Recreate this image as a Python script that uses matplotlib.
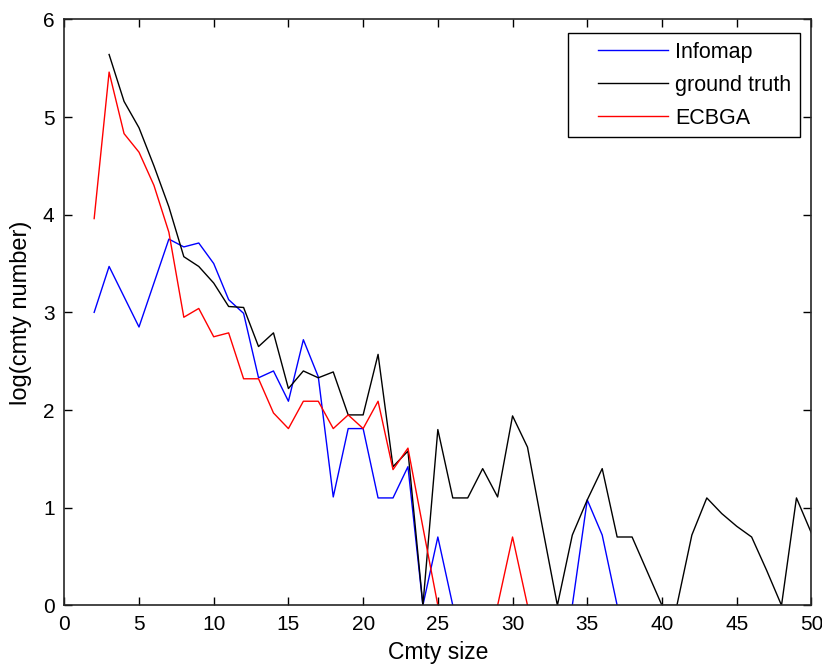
import numpy as np
import matplotlib.pyplot as plt
from matplotlib.legend_handler import HandlerLine2D

plt.rcParams['font.family'] = ['Liberation Sans', 'DejaVu Sans']

nan = np.nan

# community sizes
size = np.arange(2, 51)

# log of community counts per size (nan where no community of that size)
infomap = [3.00, 3.47, 3.16, 2.85, 3.30, 3.75, 3.67, 3.71, 3.50, 3.13,
           2.99, 2.33, 2.40, 2.09, 2.72, 2.34, 1.11, 1.81, 1.81, 1.10,
           1.10, 1.42, 0.00, 0.70, 0.00, nan, nan, nan, nan, nan,
           nan, nan, 0.00, 1.08, 0.72, 0.00, nan, nan, nan, nan,
           nan, nan, nan, nan, nan, nan, nan, nan, nan]

ground_truth = [nan, 5.64, 5.16, 4.89, 4.50, 4.08, 3.57, 3.47, 3.30, 3.06,
                3.05, 2.65, 2.79, 2.22, 2.40, 2.33, 2.39, 1.95, 1.95, 2.57,
                1.42, 1.58, 0.00, 1.80, 1.10, 1.10, 1.40, 1.11, 1.94, 1.62,
                0.80, 0.00, 0.72, 1.08, 1.40, 0.70, 0.70, 0.35, 0.00, 0.00,
                0.72, 1.10, 0.94, 0.81, 0.70, 0.36, 0.00, 1.10, 0.74]

ecbga = [3.96, 5.46, 4.83, 4.64, 4.30, 3.82, 2.95, 3.04, 2.75, 2.79,
         2.32, 2.32, 1.97, 1.81, 2.09, 2.09, 1.81, 1.95, 1.81, 2.09,
         1.39, 1.61, 0.80, 0.00, nan, nan, nan, 0.00, 0.70, 0.00,
         nan, nan, nan, nan, nan, nan, nan, nan, nan, nan,
         nan, nan, nan, nan, nan, nan, nan, nan, nan]

fig = plt.figure(figsize=(8.22, 6.67), dpi=100)
ax = fig.add_axes([0.0782, 0.0924, 0.9089, 0.8786])

ax.plot(size, infomap, color='#0000ff', lw=1.0, label='Infomap')
ax.plot(size, ground_truth, color='black', lw=1.0, label='ground truth')
ax.plot(size, ecbga, color='#ff0000', lw=1.0, label='ECBGA')

ax.set_xlim(0, 50)
ax.set_ylim(0, 6)
ax.set_xticks(np.arange(0, 51, 5))
ax.set_yticks(np.arange(0, 7, 1))
ax.tick_params(direction='in', top=True, right=True, length=6, width=1,
               labelsize=15, pad=7)
for sp in ax.spines.values():
    sp.set_linewidth(1.2)
    sp.set_color('#262626')

ax.set_xlabel('Cmty size', fontsize=16.5, labelpad=5)
ax.set_ylabel('log(cmty number)', fontsize=17, labelpad=8)

# legend lines are inset from the left edge of the box
fs = 15.5
inset = HandlerLine2D(xpad=1.0)
leg = ax.legend(loc='upper right', bbox_to_anchor=(0.985, 0.976), borderaxespad=0,
                fontsize=fs, fancybox=False, framealpha=1, edgecolor='black',
                handlelength=4.25, handletextpad=0.33, labelspacing=0.55,
                borderpad=0.4, handler_map={plt.Line2D: inset})
leg.get_frame().set_linewidth(1.0)

fig.savefig('out.png', dpi=100)
